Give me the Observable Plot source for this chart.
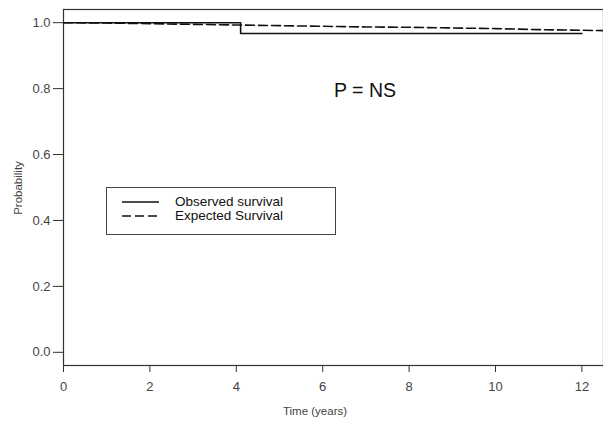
<!DOCTYPE html>
<html>
<head>
<meta charset="utf-8">
<script src="https://cdn.jsdelivr.net/npm/d3@7"></script>
<script src="https://cdn.jsdelivr.net/npm/@observablehq/plot@0.6"></script>
<style>
  html, body { margin: 0; padding: 0; background: #fff; }
  #wrap { position: relative; width: 603px; height: 421px; font-family: "Liberation Sans", Arial, sans-serif; }
  #legend { position: absolute; left: 106px; top: 187px; width: 228px; height: 46px; border: 1px solid #444; background: #fff; }
  .lg-row { position: absolute; left: 0; display: flex; align-items: center; font-size: 13.5px; color: #111; line-height: 13px; height: 13px; }
  #pns { position: absolute; left: 334px; top: 79px; font-size: 19.5px; color: #111; line-height: 22px; }
</style>
</head>
<body>
<div id="wrap">
  <div id="chart"></div>
  <div id="legend"></div>
  <div id="pns">P = NS</div>
</div>
<script>
// Observed survival (Kaplan-Meier step)
const observedTime = [0, 4.1, 12.0];
const observedProb = [1.0, 0.967, 0.967];

// Expected survival
const expectedTime = [0, 1, 2, 3, 4, 5, 6, 7, 8, 9, 10, 11, 12, 12.5];
const expectedProb = [1.0, 0.999, 0.997, 0.995, 0.993, 0.991, 0.989, 0.987, 0.986, 0.984, 0.982, 0.979, 0.977, 0.976];

const xTicks = [0, 2, 4, 6, 8, 10, 12];
const yTicks = [0.0, 0.2, 0.4, 0.6, 0.8, 1.0];

const legendLabels = ["Observed survival", "Expected Survival"];

const observed = observedTime.map((t, i) => ({t, p: observedProb[i]}));
const expected = expectedTime.map((t, i) => ({t, p: expectedProb[i]}));

const chart = Plot.plot({
  width: 603,
  height: 421,
  marginLeft: 63,
  marginRight: 0,
  marginTop: 9,
  marginBottom: 56,
  style: {fontFamily: "'Liberation Sans', Arial, sans-serif", fontSize: "13px", color: "#444", background: "#fff"},
  x: {domain: [0, 12.5], label: null},
  y: {domain: [-0.04, 1.04], label: null},
  marks: [
    Plot.frame({stroke: "#333", strokeWidth: 1.2}),
    Plot.axisX({ticks: xTicks, tickSize: 7, tickPadding: 9, tickFormat: d => String(d), label: null, stroke: "#333", fontSize: 13}),
    Plot.axisY({ticks: yTicks, tickSize: 10, tickPadding: 3, tickFormat: d => d.toFixed(1), label: null, stroke: "#333", fontSize: 13}),
    Plot.line(expected, {x: "t", y: "p", stroke: "#111", strokeWidth: 1.6, strokeDasharray: "9,4"}),
    Plot.line(observed, {x: "t", y: "p", stroke: "#111", strokeWidth: 1.6, curve: "step-after"})
  ]
});
document.getElementById("chart").appendChild(chart);

// axis titles
const svg = d3.select(chart);
svg.append("text")
  .attr("x", 63 + 540 / 2 - 18).attr("y", 415)
  .attr("text-anchor", "middle")
  .attr("fill", "#444").attr("font-size", 11.5)
  .text("Time (years)");
svg.append("text")
  .attr("transform", "translate(22,188) rotate(-90)")
  .attr("text-anchor", "middle")
  .attr("fill", "#444").attr("font-size", 11.5)
  .text("Probability");

// legend
const lg = document.getElementById("legend");
const dashes = [null, "9,4"];
legendLabels.forEach((lab, i) => {
  const row = document.createElement("div");
  row.className = "lg-row";
  row.style.top = (7 + i * 14) + "px";
  row.innerHTML = `<svg width="53" height="12" style="margin-left:15px"><line x1="0" x2="37" y1="6" y2="6" stroke="#111" stroke-width="1.6" ${dashes[i] ? `stroke-dasharray="${dashes[i]}"` : ""}/></svg><span>${lab}</span>`;
  lg.appendChild(row);
});
</script>
</body>
</html>
